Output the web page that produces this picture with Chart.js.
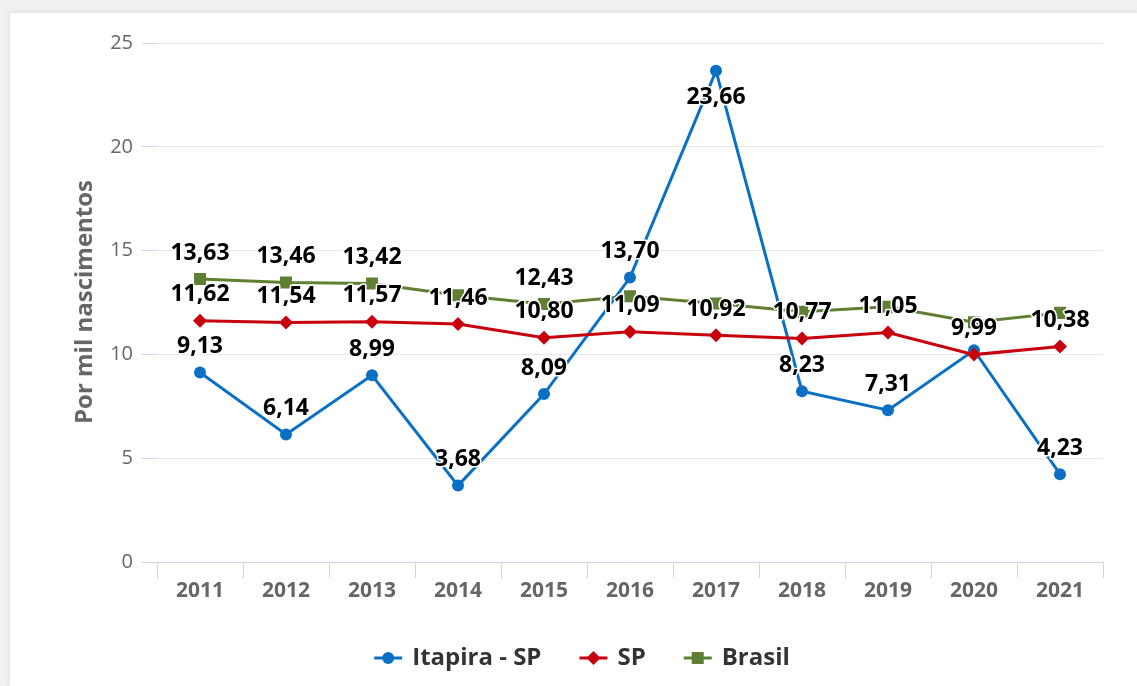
<!DOCTYPE html>
<html><head><meta charset="utf-8">
<script src="https://cdn.jsdelivr.net/npm/chart.js@4/dist/chart.umd.min.js"></script>
<style>
html,body{margin:0;padding:0;width:1137px;height:686px;overflow:hidden;background:#f1f1f1;}
#card{position:absolute;left:10px;top:13px;width:1127px;height:673px;background:#fff;box-shadow:0 0 6px rgba(0,0,0,0.10);}
#wrap{position:absolute;left:0;top:0;width:1137px;height:686px;}
</style></head>
<body>
<div id="card"></div>
<div id="wrap"><canvas id="c" width="1137" height="686"></canvas></div>
<script>
const categories = ['2011','2012','2013','2014','2015','2016','2017','2018','2019','2020','2021'];
const itapira = [9.13, 6.14, 8.99, 3.68, 8.09, 13.70, 23.66, 8.23, 7.31, 10.2, 4.23];
const sp      = [11.62, 11.54, 11.57, 11.46, 10.80, 11.09, 10.92, 10.77, 11.05, 9.99, 10.38];
const brasil  = [13.63, 13.46, 13.42, 12.85, 12.43, 12.8, 12.45, 12.05, 12.3, 11.55, 12.0];
const seriesNames = ['Itapira - SP', 'SP', 'Brasil'];
const yTitle = 'Por mil nascimentos';
// indices whose data label is hidden (overlap in the original)
const hiddenItapira = [9];
const hiddenSp = [];
const hiddenBrasil = [3, 5, 6, 7, 8, 9, 10];

const BLUE = '#0b70c3', RED = '#c8000e', GREEN = '#5f7f32';
const FONT = '"Open Sans", Lato, sans-serif';

const hiddenMap = [hiddenItapira, hiddenSp, hiddenBrasil];

const labelsPlugin = {
  id: 'dlabels',
  afterDatasetsDraw(chart) {
    const ctx = chart.ctx;
    const top = chart.chartArea.top;
    ctx.save();
    ctx.font = 'bold 23px ' + FONT;
    ctx.textAlign = 'center';
    ctx.textBaseline = 'middle';
    ctx.lineJoin = 'round';
    ctx.lineWidth = 3;
    ctx.strokeStyle = '#ffffff';
    ctx.fillStyle = '#000000';
    chart.data.datasets.forEach((ds, di) => {
      const meta = chart.getDatasetMeta(di);
      meta.data.forEach((pt, i) => {
        if (hiddenMap[di].includes(i)) return;
        const txt = ds.data[i].toFixed(2).replace('.', ',');
        let ly = pt.y - 26;
        if (ly - 12 < top) ly = pt.y + 27; // keep inside plot area
        ctx.strokeText(txt, pt.x, ly);
        ctx.fillText(txt, pt.x, ly);
      });
    });
    ctx.restore();
  },
  afterDraw(chart) {
    const ctx = chart.ctx;
    ctx.save();
    // y axis title
    ctx.font = 'bold 24px ' + FONT;
    ctx.fillStyle = '#666666';
    ctx.textAlign = 'center';
    ctx.textBaseline = 'middle';
    ctx.translate(85, 302);
    ctx.rotate(-Math.PI / 2);
    ctx.fillText(yTitle, 0, 0);
    ctx.restore();

    // legend
    ctx.save();
    ctx.font = 'bold 24px ' + FONT;
    ctx.textBaseline = 'middle';
    ctx.textAlign = 'left';
    const symW = 28, gap = 10, itemGap = 38;
    const widths = chart.data.datasets.map(ds => symW + gap + ctx.measureText(ds.label).width);
    const total = widths.reduce((a, b) => a + b, 0) + itemGap * (widths.length - 1);
    let x = 582 - total / 2;
    const y = 658;
    chart.data.datasets.forEach((ds, di) => {
      ctx.strokeStyle = ds.borderColor;
      ctx.lineWidth = 3;
      ctx.beginPath();
      ctx.moveTo(x, y);
      ctx.lineTo(x + symW, y);
      ctx.stroke();
      ctx.fillStyle = ds.borderColor;
      Chart.helpers.drawPoint(ctx, {pointStyle: ds.pointStyle, radius: ds.pointRadius, rotation: 0, borderWidth: 0}, x + symW / 2, y);
      ctx.fillStyle = '#333333';
      ctx.fillText(ds.label, x + symW + gap, y);
      x += widths[di] + itemGap;
    });
    ctx.restore();
  }
};

new Chart(document.getElementById('c'), {
  type: 'line',
  data: {
    labels: categories,
    datasets: [
      {label: seriesNames[0], data: itapira, borderColor: BLUE, backgroundColor: BLUE,
       pointBackgroundColor: BLUE, pointBorderWidth: 0, pointStyle: 'circle', pointRadius: 6,
       borderWidth: 3, tension: 0, order: 1},
      {label: seriesNames[1], data: sp, borderColor: RED, backgroundColor: RED,
       pointBackgroundColor: RED, pointBorderWidth: 0, pointStyle: 'rectRot', pointRadius: 7,
       borderWidth: 3, tension: 0, order: 0},
      {label: seriesNames[2], data: brasil, borderColor: GREEN, backgroundColor: GREEN,
       pointBackgroundColor: GREEN, pointBorderWidth: 0, pointStyle: 'rect', pointRadius: 8.5,
       borderWidth: 3, tension: 0, order: 2}
    ]
  },
  options: {
    responsive: false,
    devicePixelRatio: 1,
    animation: false,
    layout: {padding: {left: 0, right: 34, top: 43, bottom: 74}},
    plugins: {legend: {display: false}, tooltip: {enabled: false}},
    scales: {
      x: {
        offset: true,
        grid: {offset: true, drawOnChartArea: false, tickLength: 16, color: '#ccd6eb', tickColor: '#ccd6eb'},
        border: {display: true, color: '#ccd6eb', width: 1},
        ticks: {color: '#666666', font: {family: FONT, size: 21, weight: 'bold'}, padding: 0, maxRotation: 0},
        afterFit(s) { s.height = 50; }
      },
      y: {
        min: 0, max: 25,
        ticks: {stepSize: 5, color: '#666666', font: {family: FONT, size: 20}, padding: 9},
        grid: {color: '#e6e6e6', lineWidth: 1, tickLength: 15, tickColor: '#ccd6eb'},
        border: {display: false},
        afterFit(s) { s.width = 157; }
      }
    }
  },
  plugins: [labelsPlugin]
});
</script>
</body></html>
